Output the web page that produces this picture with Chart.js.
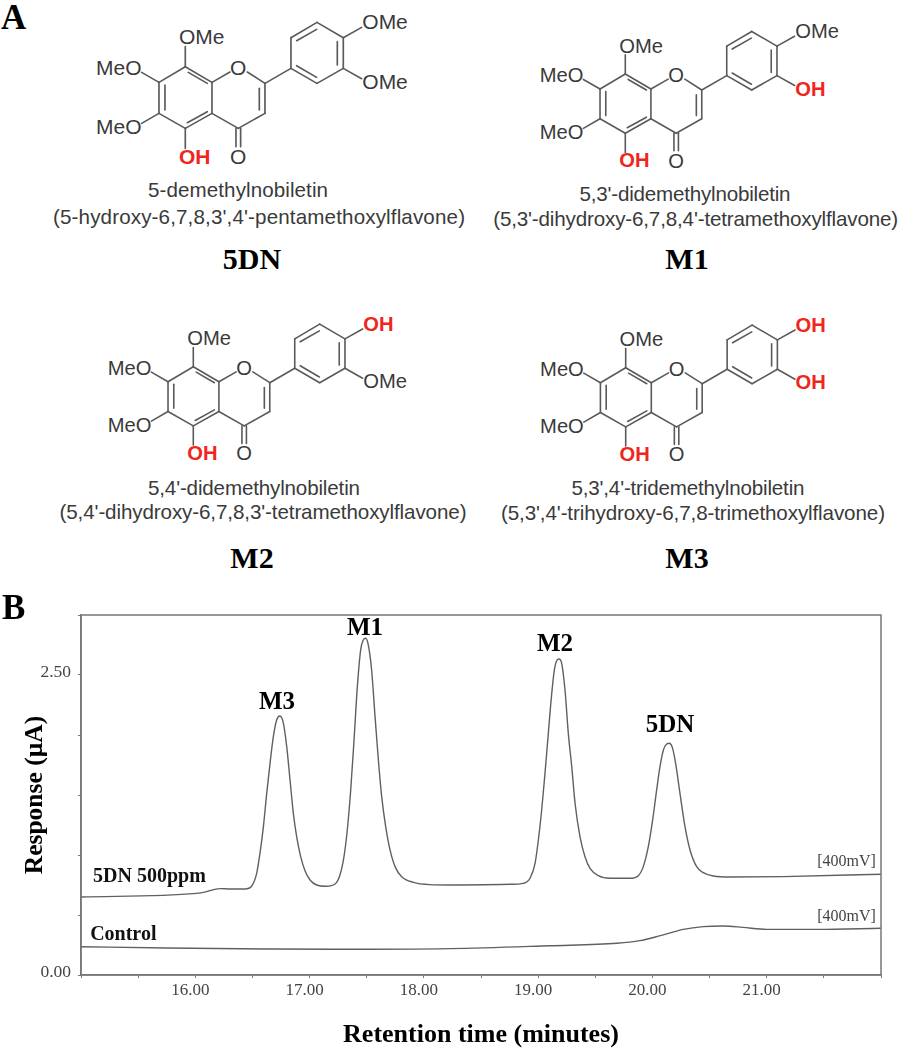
<!DOCTYPE html>
<html>
<head>
<meta charset="utf-8">
<title>5DN metabolites</title>
<script src="https://cdn.jsdelivr.net/npm/chart.js@4"></script>
<style>
  html, body { margin: 0; padding: 0; background: #fff; }
  #page { position: relative; width: 901px; height: 1050px; overflow: hidden; }
  #panelA { position: absolute; left: 0; top: 0; }
  #chart { position: absolute; left: 0; top: 590px; }
</style>
</head>
<body>
<div id="page">
  <svg id="panelA" width="901" height="590" xmlns="http://www.w3.org/2000/svg"></svg>
  <canvas id="chart" width="901" height="460"></canvas>
</div>
<script>
// chromatogram values (minutes, uA)
const sampleTimes = [15, 16.01, 16.1, 16.16, 16.22, 16.304, 16.435, 16.494, 16.537, 16.566, 16.596, 16.625, 16.654, 16.683, 16.712, 16.741, 16.771, 16.8, 16.829, 16.858, 16.887, 16.922, 16.96, 17.004, 17.062, 17.144, 17.223, 17.266, 17.301, 17.33, 17.36, 17.389, 17.418, 17.447, 17.47, 17.488, 17.511, 17.543, 17.573, 17.602, 17.631, 17.666, 17.704, 17.748, 17.806, 17.908, 18.054, 18.23, 18.754, 18.871, 18.929, 18.973, 19.002, 19.031, 19.06, 19.089, 19.119, 19.142, 19.162, 19.183, 19.206, 19.235, 19.264, 19.294, 19.323, 19.366, 19.41, 19.454, 19.527, 19.629, 19.804, 19.877, 19.92, 19.964, 20.002, 20.037, 20.066, 20.096, 20.125, 20.148, 20.174, 20.203, 20.241, 20.285, 20.329, 20.387, 20.445, 20.533, 20.679, 21.145, 22];
const sampleResponse = [0.65, 0.68, 0.695, 0.712, 0.72, 0.717, 0.717, 0.742, 0.847, 1.014, 1.236, 1.514, 1.764, 1.986, 2.125, 2.158, 2.097, 1.903, 1.625, 1.347, 1.153, 0.986, 0.869, 0.792, 0.75, 0.739, 0.758, 0.833, 0.986, 1.208, 1.542, 1.958, 2.403, 2.708, 2.792, 2.806, 2.764, 2.542, 2.153, 1.792, 1.486, 1.236, 1.042, 0.903, 0.819, 0.772, 0.753, 0.75, 0.756, 0.764, 0.806, 0.931, 1.125, 1.375, 1.68, 2.014, 2.347, 2.542, 2.619, 2.633, 2.597, 2.375, 2.014, 1.736, 1.431, 1.153, 0.986, 0.889, 0.828, 0.806, 0.806, 0.828, 0.903, 1.069, 1.292, 1.542, 1.736, 1.875, 1.925, 1.931, 1.897, 1.764, 1.514, 1.236, 1.042, 0.903, 0.853, 0.825, 0.817, 0.82, 0.84];
const controlTimes = [15, 15.75, 16.62, 17.2, 18.23, 19.1, 19.69, 19.89, 20.07, 20.27, 20.445, 20.62, 20.79, 21, 21.44, 22];
const controlResponse = [0.236, 0.225, 0.217, 0.214, 0.22, 0.244, 0.264, 0.286, 0.328, 0.38, 0.403, 0.408, 0.397, 0.38, 0.38, 0.39];
const xTickLabels = ["16.00", "17.00", "18.00", "19.00", "20.00", "21.00"];
const yTickLabels = ["0.00", "2.50"];
const peakNames = ["M3", "M1", "M2", "5DN"];
const traceNames = ["5DN 500ppm", "Control"];
const traceRange = "[400mV]";

const serif = '"Liberation Serif", serif';
const sans = '"Liberation Sans", sans-serif';

// ---- panel A: structures, drawn once from one skeleton in 3x units ----
const svg = document.getElementById("panelA");
const bonds = [
  [477,247,556,200],[556,200,636,247],[636,247,636,340],[636,340,556,385],[556,385,477,340],[477,340,477,247],
  [495,255,495,330],[565,217,622,250],[622,335,562,368],
  [636,247,690,216],[742,216,795,250],[795,250,795,340],[795,340,715,385],[715,385,636,340],[778,265,778,330],
  [708,385,708,440],[722,385,722,440],
  [795,250,873,205],[873,205,873,113],[873,113,951,67],[951,67,1030,113],[1030,113,1030,205],[1030,205,951,250],[951,250,873,205],
  [890,122,950,88],[1012,125,1012,195],[890,197,950,232],
  [556,200,556,140],[477,247,425,217],[477,340,425,370],[556,385,556,445],[1030,113,1085,82],[1030,205,1085,236]
];

function addText(parent, str, x, y, size, opts) {
  const t = document.createElementNS("http://www.w3.org/2000/svg", "text");
  t.setAttribute("x", x);
  t.setAttribute("y", y);
  t.setAttribute("font-size", size);
  t.setAttribute("font-family", opts.family || sans);
  t.setAttribute("fill", opts.fill || "#3a3a3a");
  t.setAttribute("text-anchor", opts.anchor || "start");
  if (opts.weight) t.setAttribute("font-weight", opts.weight);
  if (opts.width) t.setAttribute("textLength", opts.width);
  t.textContent = str;
  parent.appendChild(t);
}

function addGroupLabel(g, label, x, y, anchor) {
  const isOH = label === "OH";
  addText(g, label, x, y, 63, { fill: isOH ? "#f0261d" : "#3a3a3a", weight: isOH ? "bold" : null, anchor: anchor });
}

function drawMolecule(m) {
  const g = document.createElementNS("http://www.w3.org/2000/svg", "g");
  g.setAttribute("transform", `translate(${m.x} ${m.y}) scale(${m.s / 3}) translate(-556 -200)`);
  bonds.forEach((b) => {
    const l = document.createElementNS("http://www.w3.org/2000/svg", "line");
    l.setAttribute("x1", b[0]); l.setAttribute("y1", b[1]);
    l.setAttribute("x2", b[2]); l.setAttribute("y2", b[3]);
    l.setAttribute("stroke", "#5a5a5a");
    l.setAttribute("stroke-width", 5);
    l.setAttribute("stroke-linecap", "round");
    g.appendChild(l);
  });
  addGroupLabel(g, "OMe", 537, 133);
  addGroupLabel(g, "MeO", 425, 225, "end");
  addGroupLabel(g, "MeO", 425, 403, "end");
  addGroupLabel(g, "OH", 537, 492);
  addGroupLabel(g, "O", 715, 225, "middle");
  addGroupLabel(g, "O", 715, 493, "middle");
  addGroupLabel(g, m.r4, 1087, 88);
  addGroupLabel(g, m.r3, 1087, 268);
  svg.appendChild(g);

  addText(svg, m.name, m.nameX, m.nameY, 20.6, { anchor: "middle", width: m.nameW });
  addText(svg, m.full, m.fullX, m.fullY, 20.6, { anchor: "middle", width: m.fullW });
  addText(svg, m.code, m.codeX, m.codeY, 30, { anchor: "middle", family: serif, weight: "bold", fill: "#000" });
}

[
  { x: 185.3, y: 66.7, s: 1, r4: "OMe", r3: "OMe", name: "5-demethylnobiletin", nameX: 238, nameY: 197, nameW: 180,
    full: "(5-hydroxy-6,7,8,3',4'-pentamethoxylflavone)", fullX: 259, fullY: 224, fullW: 412,
    code: "5DN", codeX: 252, codeY: 269 },
  { x: 625.3, y: 74, s: 0.96, r4: "OMe", r3: "OH", name: "5,3'-didemethylnobiletin", nameX: 685, nameY: 201, nameW: 211,
    full: "(5,3'-dihydroxy-6,7,8,4'-tetramethoxylflavone)", fullX: 695.7, fullY: 226, fullW: 405,
    code: "M1", codeX: 687, codeY: 269 },
  { x: 193.3, y: 366.7, s: 0.96, r4: "OH", r3: "OMe", name: "5,4'-didemethylnobiletin", nameX: 254, nameY: 495, nameW: 212,
    full: "(5,4'-dihydroxy-6,7,8,3'-tetramethoxylflavone)", fullX: 263, fullY: 519, fullW: 407,
    code: "M2", codeX: 252, codeY: 568 },
  { x: 625.7, y: 367.7, s: 0.96, r4: "OH", r3: "OH", name: "5,3',4'-tridemethylnobiletin", nameX: 688, nameY: 495, nameW: 233,
    full: "(5,3',4'-trihydroxy-6,7,8-trimethoxylflavone)", fullX: 693, fullY: 520, fullW: 384,
    code: "M3", codeX: 687, codeY: 568 }
].forEach(drawMolecule);

addText(svg, "A", 1, 29, 35, { family: serif, weight: "bold", fill: "#000" });

// ---- panel B: chromatogram ----
const zip = (xs, ys) => xs.map((x, i) => ({ x: x, y: ys[i] }));

// labels sitting in the plot, anchored in data units
const plotNotes = [
  { text: peakNames[0], x: 16.715, y: 2.267, font: "bold 25px " + serif, align: "center", color: "#000" },
  { text: peakNames[1], x: 17.485, y: 2.89, font: "bold 25px " + serif, align: "center", color: "#000" },
  { text: peakNames[2], x: 19.147, y: 2.75, font: "bold 25px " + serif, align: "center", color: "#000" },
  { text: peakNames[3], x: 20.154, y: 2.075, font: "bold 25px " + serif, align: "center", color: "#000" },
  { text: traceNames[0], x: 15.105, y: 0.817, font: "bold 20px " + serif, align: "left", color: "#111" },
  { text: traceNames[1], x: 15.08, y: 0.333, font: "bold 20px " + serif, align: "left", color: "#111" },
  { text: traceRange, x: 21.955, y: 0.94, font: "16px " + serif, align: "right", color: "#444" },
  { text: traceRange, x: 21.955, y: 0.483, font: "16px " + serif, align: "right", color: "#444" }
];

const framePlugin = {
  id: "frameAndNotes",
  afterDatasetsDraw(chart) {
    const { ctx, chartArea: a, scales } = chart;
    ctx.save();
    ctx.strokeStyle = "#777";
    ctx.lineWidth = 1.5;
    ctx.strokeRect(a.left, a.top, a.right - a.left, a.bottom - a.top);
    ctx.textBaseline = "middle";
    plotNotes.forEach((n) => {
      ctx.font = n.font;
      ctx.textAlign = n.align;
      ctx.fillStyle = n.color;
      ctx.fillText(n.text, scales.x.getPixelForValue(n.x), scales.y.getPixelForValue(n.y));
    });
    ctx.fillStyle = "#000";
    ctx.font = "bold 35px " + serif;
    ctx.textAlign = "left";
    ctx.fillText("B", 2, 20);
    ctx.restore();
  }
};

new Chart(document.getElementById("chart"), {
  type: "line",
  data: {
    datasets: [
      { label: traceNames[0], data: zip(sampleTimes, sampleResponse) },
      { label: traceNames[1], data: zip(controlTimes, controlResponse) }
    ]
  },
  options: {
    responsive: false,
    animation: false,
    layout: { padding: { left: 0, right: 20, top: 25, bottom: 0 } },
    elements: {
      point: { radius: 0 },
      line: { borderColor: "#606060", borderWidth: 1.4, cubicInterpolationMode: "monotone" }
    },
    plugins: { legend: { display: false }, tooltip: { enabled: false } },
    scales: {
      x: {
        type: "linear",
        min: 15,
        max: 22,
        afterFit(scale) { scale.height = 75; },
        grid: { drawOnChartArea: false, tickLength: 3, color: "#777" },
        border: { color: "#777", width: 1.5 },
        ticks: {
          stepSize: 0.5,
          autoSkip: false,
          maxRotation: 0,
          labelOffset: -5,
          padding: 2,
          color: "#444",
          font: { family: serif, size: 17 },
          callback: (v) => (xTickLabels.includes(v.toFixed(2)) ? v.toFixed(2) : "")
        },
        title: {
          display: true,
          text: "Retention time (minutes)",
          color: "#000",
          font: { family: serif, size: 26, weight: "bold", lineHeight: 1 },
          padding: { top: 0, bottom: 2 }
        }
      },
      y: {
        min: 0,
        max: 3,
        afterFit(scale) { scale.width = 81; },
        grid: { drawOnChartArea: false, tickLength: 3, color: "#777" },
        border: { color: "#777", width: 1.5 },
        ticks: {
          stepSize: 0.5,
          autoSkip: false,
          labelOffset: -3,
          padding: 7,
          color: "#444",
          font: { family: serif, size: 17.5 },
          callback: (v) => (yTickLabels.includes(v.toFixed(2)) ? v.toFixed(2) : "")
        },
        title: {
          display: true,
          text: "Response (µA)",
          color: "#000",
          font: { family: serif, size: 25.5, weight: "bold" },
          padding: { top: 20, bottom: 0 }
        }
      }
    }
  },
  plugins: [framePlugin]
});
</script>
</body>
</html>
